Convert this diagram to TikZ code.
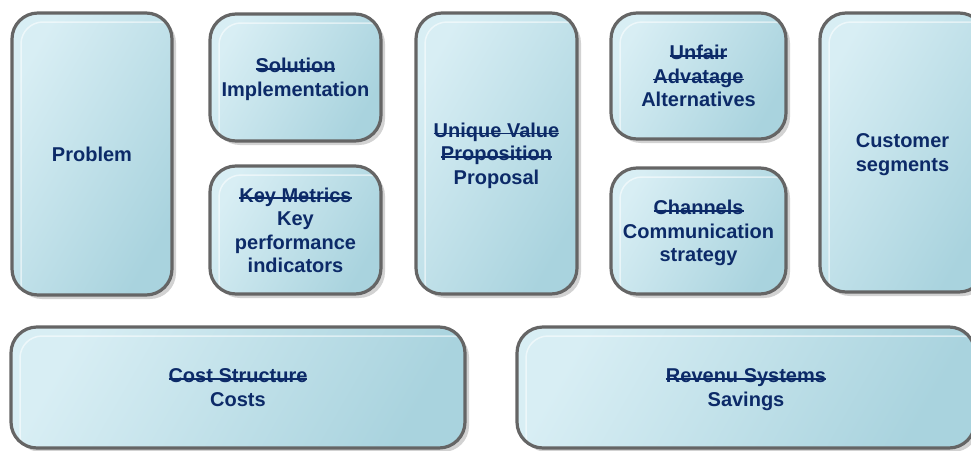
\documentclass[tikz,border=0pt]{standalone}
\usepackage{fontspec}
\setmainfont{Liberation Sans}
\usetikzlibrary{shadows}
\newsavebox{\strkbox}
\newcommand{\strk}[1]{\sbox{\strkbox}{#1}\makebox[0pt][l]{\usebox{\strkbox}}\rule[0.3ex]{\wd\strkbox}{1.5pt}}
\definecolor{txtblue}{HTML}{0C2A68}
\definecolor{bordergray}{HTML}{656565}
\definecolor{filltl}{HTML}{D8EEF4}
\definecolor{fillbr}{HTML}{A9D3DE}
\tikzset{
  pane/.style={draw=bordergray, line width=3.2pt, rounded corners=26pt,
    left color=filltl, right color=fillbr, shading angle=60,
    drop shadow={shadow xshift=4pt, shadow yshift=-4pt, fill=black!35, opacity=0.5},
    text=txtblue, font=\fontsize{20}{23.5}\selectfont\bfseries, align=center,
    inner sep=0pt, text depth=0pt,
    path picture={
      \draw[white, opacity=0.55, line width=1.5pt, rounded corners=22pt]
        ([xshift=9pt,yshift=-9pt]path picture bounding box.north west) rectangle
        ([xshift=9pt,yshift=-9pt]path picture bounding box.south east);
    }},
}
\begin{document}
\begin{tikzpicture}[x=1pt,y=-1pt]
\useasboundingbox (0,0) rectangle (971,450);
\clip (0,0) rectangle (971,450);
\node[pane, minimum width=160pt, minimum height=282pt] (problem) at (92,154) {Problem};
\node[pane, minimum width=171pt, minimum height=127pt] (solution) at (295.5,77.5) {\strk{Solution}\\Implementation};
\node[pane, minimum width=171pt, minimum height=128pt] (metrics) at (295.5,230) {\strk{Key Metrics}\\Key\\performance\\indicators};
\node[pane, minimum width=161pt, minimum height=281pt] (uvp) at (496.5,153.5) {\strk{Unique Value}\\\strk{Proposition}\\Proposal};
\node[pane, minimum width=175pt, minimum height=126pt] (unfair) at (698.5,76) {\strk{Unfair}\\\strk{Advatage}\\Alternatives};
\node[pane, minimum width=175pt, minimum height=126pt] (channels) at (698.5,231) {\strk{Channels}\\Communication\\strategy};
\node[pane, minimum width=165pt, minimum height=279pt] (customer) at (902.5,152.5) {Customer\\segments};
\node[pane, minimum width=454pt, minimum height=121pt] (cost) at (238,387.5) {\strk{Cost Structure}\\Costs};
\node[pane, minimum width=458pt, minimum height=121pt] (revenue) at (746,387.5) {\strk{Revenu Systems}\\Savings};
\end{tikzpicture}
\end{document}
